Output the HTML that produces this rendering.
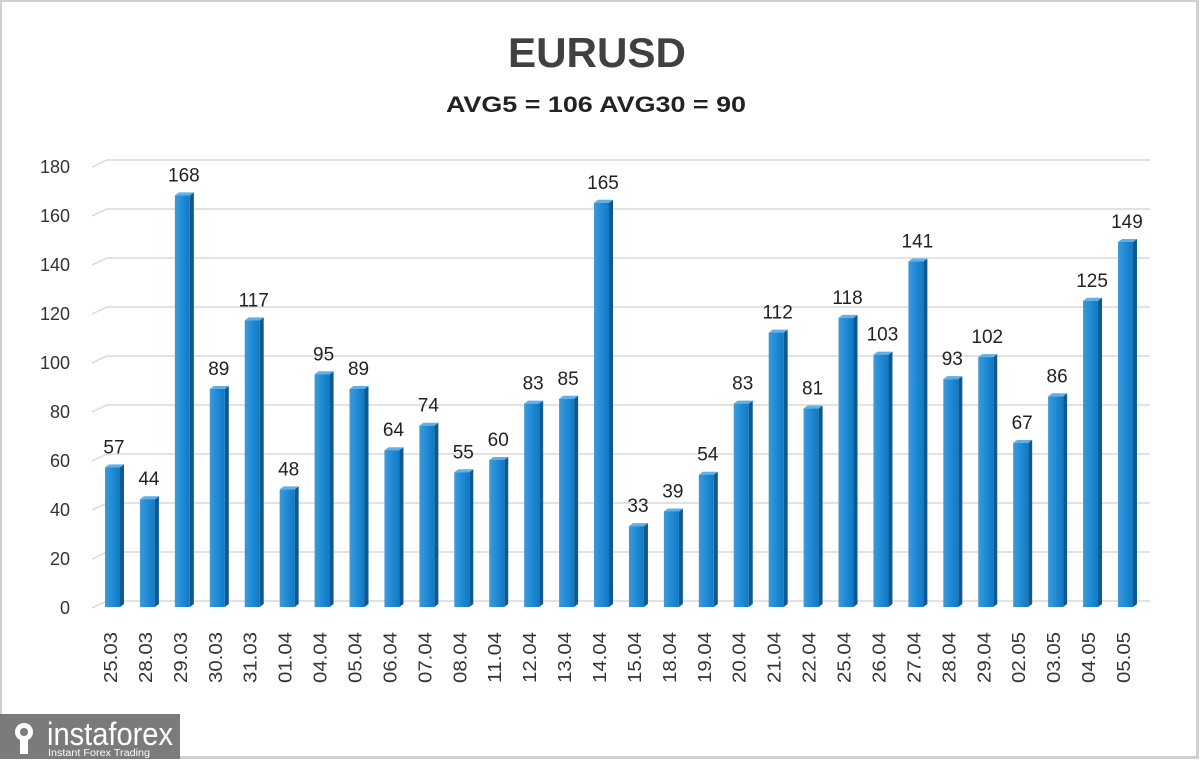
<!DOCTYPE html>
<html><head><meta charset="utf-8"><style>
html,body{margin:0;padding:0;background:#fff;}
svg{display:block;font-family:"Liberation Sans",sans-serif;}
</style></head><body>
<svg id="c" width="1200" height="760" viewBox="0 0 1200 760">
<defs>
<linearGradient id="g" x1="0" x2="1" y1="0" y2="0">
<stop offset="0" stop-color="#3d9ad8"/><stop offset="0.5" stop-color="#1f8bd6"/><stop offset="1" stop-color="#1478c0"/>
</linearGradient>
</defs>
<rect x="0.5" y="0.5" width="1197" height="757" fill="#fff" stroke="#d0d0d0" stroke-width="3"/>
<text x="597" y="67" text-anchor="middle" font-size="42" font-weight="bold" fill="#404040" textLength="178" lengthAdjust="spacingAndGlyphs">EURUSD</text>
<text x="596" y="112" text-anchor="middle" font-size="22" font-weight="bold" fill="#222" textLength="300" lengthAdjust="spacingAndGlyphs">AVG5 = 106 AVG30 = 90</text>
<g id="grid"></g>
<g id="bars"></g>
<g>
<rect x="0" y="714" width="180" height="45" fill="#7b7b7b"/>
<g fill="#fff">
<circle cx="24" cy="732" r="9"/>
<rect x="20" y="738" width="8" height="16"/>
</g>
<circle cx="24" cy="732" r="4" fill="#7b7b7b"/>
<text x="47" y="745" font-size="32" fill="#fff" textLength="126" lengthAdjust="spacingAndGlyphs">instaforex</text>
<text x="48" y="756" font-size="10" fill="#fff" textLength="102" lengthAdjust="spacingAndGlyphs">Instant Forex Trading</text>
</g>
</svg>
<script>
(function(){
var ns="http://www.w3.org/2000/svg";
function el(p,t,a,txt){var e=document.createElementNS(ns,t);for(var k in a)e.setAttribute(k,a[k]);if(txt!=null)e.textContent=txt;p.appendChild(e);return e;}
var grid=document.getElementById("grid"),bars=document.getElementById("bars");
for(var k=0;k<=9;k++){
 var gy=601-k*49.0;
 el(grid,"polyline",{points:"92,"+(gy+7)+" 107,"+gy+" 1150,"+gy,fill:"none",stroke:"#d9d9d9","stroke-width":1.5});
 el(grid,"text",{x:70,y:gy+13,"text-anchor":"end","font-size":18,fill:"#333"},String(k*20));
}
var d=[["25.03",57],["28.03",44],["29.03",168],["30.03",89],["31.03",117],["01.04",48],["04.04",95],["05.04",89],["06.04",64],["07.04",74],["08.04",55],["11.04",60],["12.04",83],["13.04",85],["14.04",165],["15.04",33],["18.04",39],["19.04",54],["20.04",83],["21.04",112],["22.04",81],["25.04",118],["26.04",103],["27.04",141],["28.04",93],["29.04",102],["02.05",67],["03.05",86],["04.05",125],["05.05",149]];
for(var i=0;i<d.length;i++){
 var bx=105+i*34.93,v=d[i][1],base=607,h=v*2.45,ty=base-h;
 el(bars,"polygon",{points:(bx+15)+","+ty+" "+(bx+19)+","+(ty-3)+" "+(bx+19)+","+(base-3)+" "+(bx+15)+","+base,fill:"#0e5a90"});
 el(bars,"polygon",{points:bx+","+ty+" "+(bx+4)+","+(ty-3)+" "+(bx+19)+","+(ty-3)+" "+(bx+15)+","+ty,fill:"#5fb0e6"});
 el(bars,"rect",{x:bx,y:ty,width:15,height:h,fill:"url(#g)"});
 el(bars,"text",{x:bx+9,y:ty-14,"text-anchor":"middle","font-size":19,fill:"#222"},String(v));
 el(bars,"text",{x:0,y:0,transform:"translate("+(bx+12)+",632) rotate(-90)","text-anchor":"end","font-size":18,fill:"#333",textLength:51,lengthAdjust:"spacingAndGlyphs"},d[i][0]);
}
})();
</script>
</body></html>
